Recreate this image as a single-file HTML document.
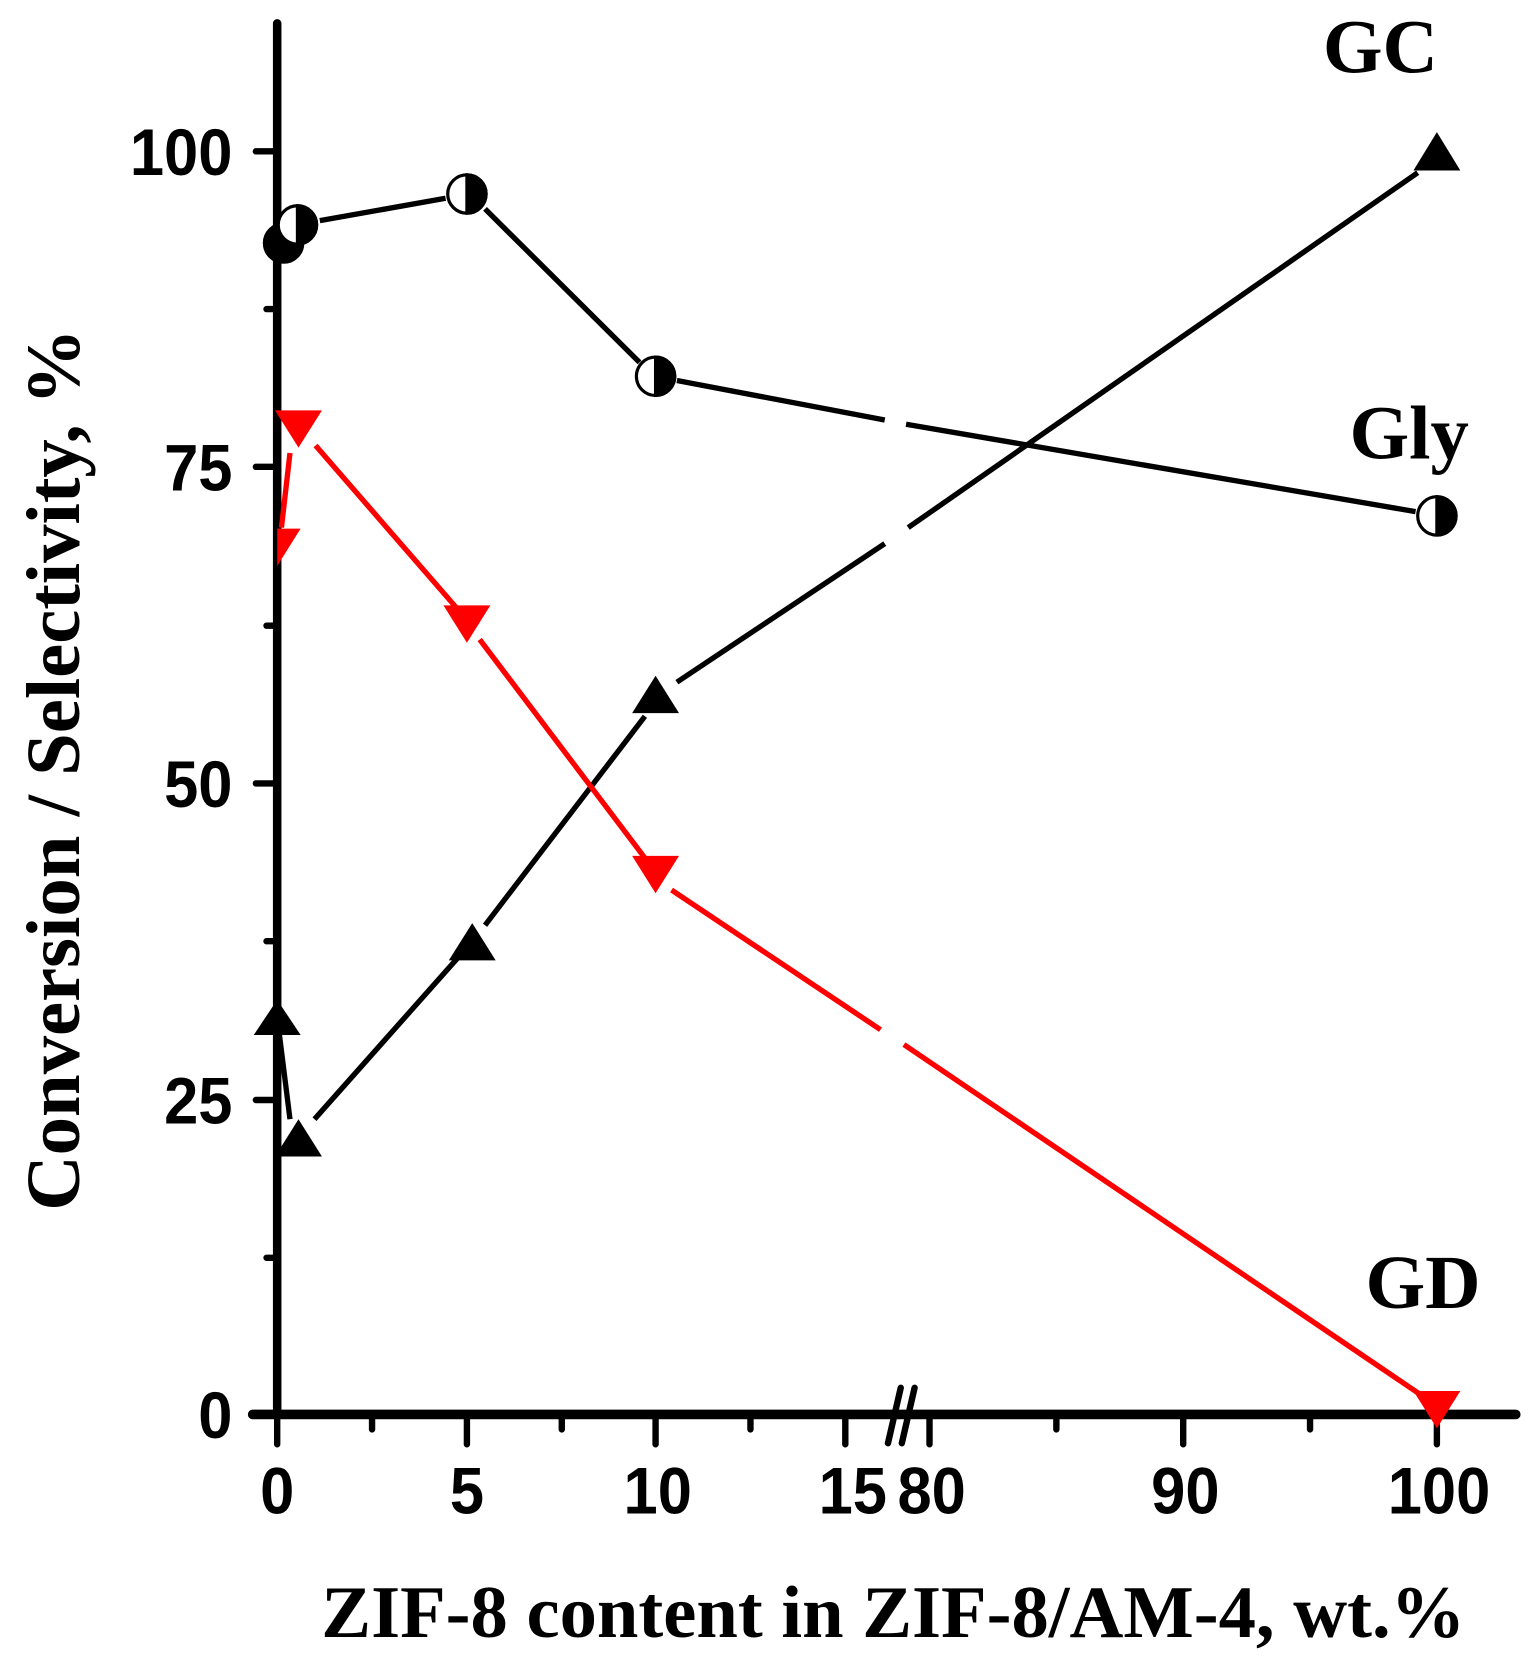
<!DOCTYPE html>
<html><head><meta charset="utf-8"><style>html,body{margin:0;padding:0;background:#fff}svg{display:block}</style></head>
<body>
<svg width="1535" height="1666" viewBox="0 0 1440 1563" xmlns="http://www.w3.org/2000/svg">
<rect width="1440" height="1563" fill="#fff"/>
<g stroke="#000" stroke-linecap="round" fill="none">
<line x1="260" y1="22" x2="260" y2="1327" stroke-width="8"/>
<line x1="237" y1="1327" x2="1422" y2="1327" stroke-width="9"/>
<g stroke-width="6">
<line x1="240" y1="142" x2="260" y2="142"/><line x1="240" y1="438" x2="260" y2="438"/><line x1="240" y1="735" x2="260" y2="735"/><line x1="240" y1="1032" x2="260" y2="1032"/>
<line x1="250" y1="290" x2="260" y2="290"/><line x1="250" y1="587" x2="260" y2="587"/><line x1="250" y1="883" x2="260" y2="883"/><line x1="250" y1="1180" x2="260" y2="1180"/>
<line x1="260" y1="1327" x2="260" y2="1355"/><line x1="438" y1="1327" x2="438" y2="1355"/><line x1="615" y1="1327" x2="615" y2="1355"/><line x1="793" y1="1327" x2="793" y2="1355"/>
<line x1="872" y1="1327" x2="872" y2="1355"/><line x1="1110" y1="1327" x2="1110" y2="1355"/><line x1="1348" y1="1327" x2="1348" y2="1355"/>
<line x1="349" y1="1327" x2="349" y2="1341"/><line x1="527" y1="1327" x2="527" y2="1341"/><line x1="704" y1="1327" x2="704" y2="1341"/>
<line x1="991" y1="1327" x2="991" y2="1341"/><line x1="1229" y1="1327" x2="1229" y2="1341"/>
<line x1="833" y1="1354" x2="845" y2="1302"/><line x1="846" y1="1354" x2="858" y2="1302"/>
</g>
<g stroke-width="5" stroke-linecap="butt">
<line x1="300" y1="207" x2="418" y2="186"/>
<line x1="455" y1="196" x2="600" y2="340"/>
<line x1="635" y1="357" x2="830" y2="394"/>
<line x1="850" y1="398" x2="1328" y2="480"/>
</g>
<g stroke-width="5" stroke-linecap="butt">
<line x1="262" y1="970" x2="272" y2="1050"/>
<line x1="295" y1="1050" x2="430" y2="898"/>
<line x1="455" y1="868" x2="605" y2="672"/>
<line x1="635" y1="640" x2="830" y2="510"/>
<line x1="852" y1="495" x2="1330" y2="162"/>
</g>
<g stroke="#f00" stroke-width="5" stroke-linecap="butt">
<line x1="264" y1="495" x2="272" y2="425"/>
<line x1="296" y1="418" x2="428" y2="570"/>
<line x1="450" y1="600" x2="605" y2="805"/>
<line x1="630" y1="835" x2="826" y2="966"/>
<line x1="848" y1="980" x2="1335" y2="1310"/>
</g>
</g>
<g stroke="#000" stroke-width="3">
<circle cx="266" cy="228" r="18" fill="#000"/>
<g transform="translate(279,211)"><circle r="18" fill="#fff"/><path d="M0,-18 A18,18 0 0 1 0,18 Z" fill="#000"/></g>
<g transform="translate(438,182)"><circle r="18" fill="#fff"/><path d="M0,-18 A18,18 0 0 1 0,18 Z" fill="#000"/></g>
<g transform="translate(615,353)"><circle r="18" fill="#fff"/><path d="M0,-18 A18,18 0 0 1 0,18 Z" fill="#000"/></g>
<g transform="translate(1348,484)"><circle r="18" fill="#fff"/><path d="M0,-18 A18,18 0 0 1 0,18 Z" fill="#000"/></g>
</g>
<g fill="#000">
<polygon points="260,938 282,971 238,971"/>
<polygon points="280,1050 302,1085 258,1085"/>
<polygon points="443,866 465,901 421,901"/>
<polygon points="615,634 637,669 593,669"/>
<polygon points="1348,124 1370,160 1326,160"/>
</g>
<g fill="#f00">
<polygon points="260,496 282,496 260,531"/>
<polygon points="258,385 302,385 280,420"/>
<polygon points="416,568 460,568 438,603"/>
<polygon points="593,803 637,803 615,838"/>
<polygon points="1326,1305 1370,1305 1348,1340"/>
</g>
<g font-family="Liberation Sans, Arial, sans-serif" font-weight="bold" font-size="62" fill="#000">
<g text-anchor="end">
<text x="218" y="164" transform="translate(218 0) scale(0.93 1) translate(-218 0)">100</text>
<text x="218" y="460" transform="translate(218 0) scale(0.93 1) translate(-218 0)">75</text>
<text x="218" y="757" transform="translate(218 0) scale(0.93 1) translate(-218 0)">50</text>
<text x="218" y="1054" transform="translate(218 0) scale(0.93 1) translate(-218 0)">25</text>
<text x="218" y="1349" transform="translate(218 0) scale(0.93 1) translate(-218 0)">0</text>
</g>
<g text-anchor="middle">
<text x="260" y="1420" transform="translate(260 0) scale(0.93 1) translate(-260 0)">0</text>
<text x="438" y="1420" transform="translate(438 0) scale(0.93 1) translate(-438 0)">5</text>
<text x="617" y="1420" transform="translate(617 0) scale(0.93 1) translate(-617 0)">10</text>
<text x="800" y="1420" transform="translate(800 0) scale(0.93 1) translate(-800 0)">15</text>
<text x="874" y="1420" transform="translate(874 0) scale(0.93 1) translate(-874 0)">80</text>
<text x="1112" y="1420" transform="translate(1112 0) scale(0.93 1) translate(-1112 0)">90</text>
<text x="1350" y="1420" transform="translate(1350 0) scale(0.93 1) translate(-1350 0)">100</text>
</g>
</g>
<g font-family="Liberation Serif, Times New Roman, serif" font-weight="bold" fill="#000">
<text x="1295" y="68" font-size="72" text-anchor="middle">GC</text>
<text x="1322" y="430" font-size="72" text-anchor="middle">Gly</text>
<text x="1335" y="1227" font-size="72" text-anchor="middle">GD</text>
<text x="838" y="1536" font-size="70" text-anchor="middle">ZIF-8 content in ZIF-8/AM-4, wt.%</text>
<text x="0" y="0" font-size="72" text-anchor="middle" transform="translate(74 722) rotate(-90)">Conversion / Selectivity, %</text>
</g>
</svg>
</body></html>
